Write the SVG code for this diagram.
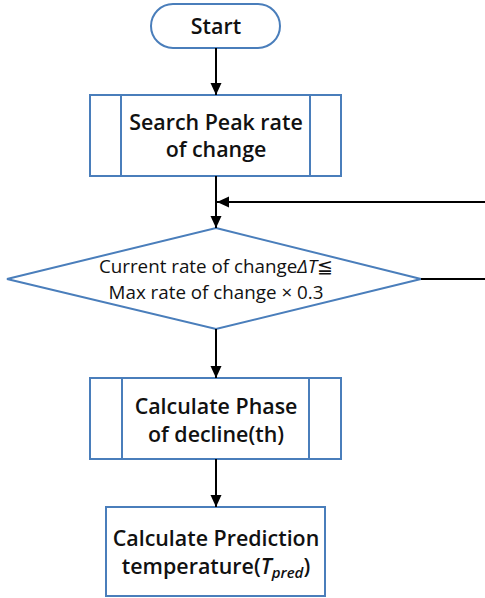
<svg xmlns="http://www.w3.org/2000/svg" width="485" height="598" viewBox="0 0 485 598">
<defs>
<marker id="arr" markerWidth="12" markerHeight="12" refX="12" refY="5.5" orient="auto" markerUnits="userSpaceOnUse">
<path d="M0,0 L12,5.5 L0,11 Z" fill="#000"/>
</marker>
<style>
.shape{fill:#fff;stroke:#4a7ebb;stroke-width:2}
.t{font-family:"Open Sans","Liberation Sans",sans-serif;font-weight:600;font-size:21.4px;fill:#111;text-anchor:middle}
.s{font-size:18.8px;font-weight:500}
.c{fill:none;stroke:#000;stroke-width:2}
</style>
</defs>
<rect width="485" height="598" fill="#fff"/>
<g id="start">
<rect class="shape" x="151" y="4" width="129" height="44" rx="22"/>
<text class="t" x="216" y="34">Start</text>
</g>
<g id="search">
<rect class="shape" x="90" y="95" width="251" height="81"/>
<line class="shape" x1="121" y1="95" x2="121" y2="176"/>
<line class="shape" x1="310" y1="95" x2="310" y2="176"/>
<text class="t" x="216" y="130">Search Peak rate</text>
<text class="t" x="216" y="157">of change</text>
</g>
<g id="decision">
<polygon class="shape" points="216,228 421,279 216,329 7,279"/>
<text class="t s" x="216" y="273">Current rate of change<tspan font-style="italic">ΔT</tspan>≦</text>
<text class="t s" x="216" y="299">Max rate of change × 0.3</text>
</g>
<g id="phase">
<rect class="shape" x="90" y="378" width="251" height="81"/>
<line class="shape" x1="122" y1="378" x2="122" y2="459"/>
<line class="shape" x1="309" y1="378" x2="309" y2="459"/>
<text class="t" x="216" y="414">Calculate Phase</text>
<text class="t" x="216" y="442">of decline(th)</text>
</g>
<g id="predict">
<rect class="shape" x="106" y="507" width="219" height="89"/>
<text class="t" x="216" y="546">Calculate Prediction</text>
<text class="t" x="216" y="574">temperature(<tspan font-style="italic">T</tspan><tspan font-style="italic" font-size="15px" dy="4">pred</tspan><tspan dy="-4">)</tspan></text>
</g>
<g id="connectors">
<line class="c" x1="216" y1="48" x2="216" y2="95" marker-end="url(#arr)"/>
<line class="c" x1="216" y1="176" x2="216" y2="228" marker-end="url(#arr)"/>
<line class="c" x1="216" y1="329" x2="216" y2="378" marker-end="url(#arr)"/>
<line class="c" x1="216" y1="459" x2="216" y2="507" marker-end="url(#arr)"/>
<path class="c" d="M421,279 H487 V202 H217" marker-end="url(#arr)"/>
</g>
</svg>
